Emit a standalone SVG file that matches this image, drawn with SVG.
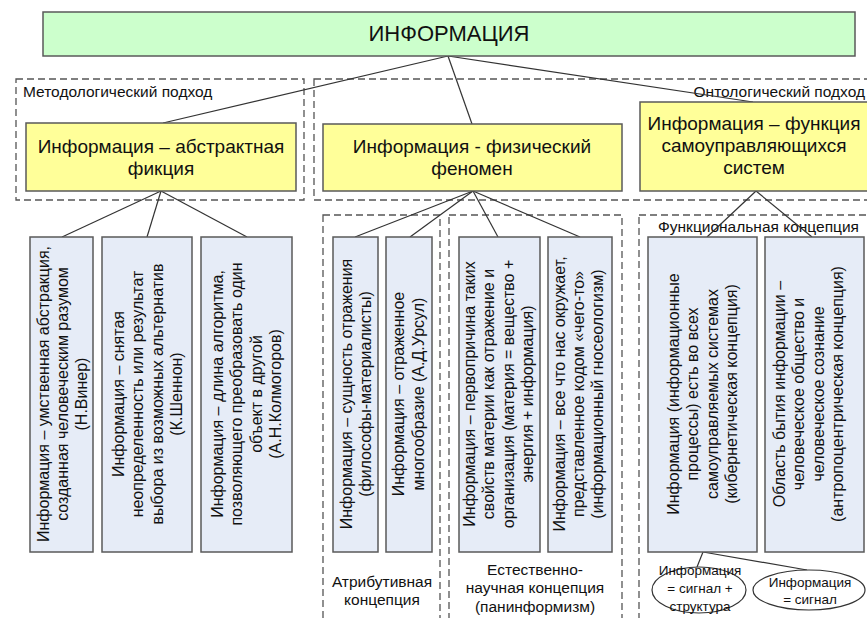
<svg xmlns="http://www.w3.org/2000/svg" width="867" height="618" viewBox="0 0 867 618">
<style>
text{font-family:"Liberation Sans",Arial,sans-serif;fill:#111}
.dash{fill:none;stroke:#555;stroke-width:1.3;stroke-dasharray:7,4}
.top{fill:#ccffcc;stroke:#5a5a5a;stroke-width:1.5}
.yel{fill:#ffff99;stroke:#5a5a5a;stroke-width:1.5}
.blu{fill:#e6ecf7;stroke:#5a5a5a;stroke-width:1.5}
.ell{fill:#fff;stroke:#333;stroke-width:1.2}
.con line{stroke:#333;stroke-width:1.2}
.t22{font-size:22px}
.t19{font-size:19px}
.t16{font-size:16px}
.t15{font-size:15.5px}
.t13{font-size:13.5px}
</style>
<rect width="867" height="618" fill="#fff"/>

<g id="groups">
<rect class="dash" x="16" y="79" width="288" height="121"/>
<rect class="dash" x="314" y="79" width="570" height="121"/>
<rect class="dash" x="323" y="215" width="117" height="420"/>
<rect class="dash" x="449" y="215" width="173" height="420"/>
<rect class="dash" x="639" y="215" width="250" height="420"/>
<text class="t15" x="23" y="97">Методологический подход</text>
<text class="t15" text-anchor="end" x="865" y="97">Онтологический подход</text>
<text class="t15" x="658" y="232">Функциональная концепция</text>
<text class="t15" text-anchor="middle" x="382" y="587">Атрибутивная</text>
<text class="t15" text-anchor="middle" x="382" y="605">концепция</text>
<text class="t15" text-anchor="middle" x="535" y="575">Естественно-</text>
<text class="t15" text-anchor="middle" x="535" y="593">научная концепция</text>
<text class="t15" text-anchor="middle" x="535" y="612">(панинформизм)</text>
</g>

<g class="con" id="connectors">
<line x1="448" y1="56" x2="163" y2="123"/>
<line x1="448" y1="56" x2="472" y2="124"/>
<line x1="448" y1="56" x2="753" y2="102"/>
<line x1="161" y1="191" x2="62" y2="237"/>
<line x1="161" y1="191" x2="147" y2="237"/>
<line x1="161" y1="191" x2="247" y2="237"/>
<line x1="473" y1="191" x2="355" y2="237"/>
<line x1="473" y1="191" x2="410" y2="237"/>
<line x1="473" y1="191" x2="498" y2="237"/>
<line x1="473" y1="191" x2="580" y2="237"/>
<line x1="756" y1="191" x2="707" y2="237"/>
<line x1="756" y1="191" x2="812" y2="237"/>
<line x1="703" y1="552" x2="697" y2="567"/>
<line x1="703" y1="552" x2="807" y2="570"/>
</g>

<g id="info">
<rect class="top" x="43" y="12" width="812" height="44"/>
<text class="t22" text-anchor="middle" x="449" y="41">ИНФОРМАЦИЯ</text>
</g>

<g id="abstract">
<rect class="yel" x="26" y="123" width="270" height="68"/>
<text class="t19" text-anchor="middle" x="161" y="153">Информация – абстрактная</text>
<text class="t19" text-anchor="middle" x="161" y="175">фикция</text>
</g>

<g id="physical">
<rect class="yel" x="323" y="124" width="299" height="67"/>
<text class="t19" text-anchor="middle" x="472" y="153">Информация - физический</text>
<text class="t19" text-anchor="middle" x="472" y="175">феномен</text>
</g>

<g id="function">
<rect class="yel" x="640" y="102" width="232" height="89"/>
<text class="t19" text-anchor="middle" x="754" y="130">Информация – функция</text>
<text class="t19" text-anchor="middle" x="754" y="152">самоуправляющихся</text>
<text class="t19" text-anchor="middle" x="754" y="174">систем</text>
</g>

<g id="wiener">
<rect class="blu" x="30" y="237" width="63" height="315"/>
<text class="t16" text-anchor="middle" transform="translate(62,394) rotate(-90)"><tspan x="0" y="-13.5">Информация – умственная абстракция,</tspan><tspan x="0" y="5.5">созданная человеческим разумом</tspan><tspan x="0" y="24.5">(Н.Винер)</tspan></text>
</g>

<g id="shannon">
<rect class="blu" x="102" y="237" width="90" height="315"/>
<text class="t16" text-anchor="middle" transform="translate(147,394) rotate(-90)"><tspan x="0" y="-23.5">Информация – снятая</tspan><tspan x="0" y="-4">неопределенность или результат</tspan><tspan x="0" y="15.5">выбора из возможных альтернатив</tspan><tspan x="0" y="35">(К.Шеннон)</tspan></text>
</g>

<g id="kolmogorov">
<rect class="blu" x="201" y="237" width="91" height="315"/>
<text class="t16" text-anchor="middle" transform="translate(246,394) rotate(-90)"><tspan x="0" y="-23.5">Информация – длина алгоритма,</tspan><tspan x="0" y="-4">позволяющего преобразовать  один</tspan><tspan x="0" y="15.5">объект в другой</tspan><tspan x="0" y="35">(А.Н.Колмогоров)</tspan></text>
</g>

<g id="materialists">
<rect class="blu" x="333" y="237" width="45" height="315"/>
<text class="t16" text-anchor="middle" transform="translate(355.5,394) rotate(-90)"><tspan x="0" y="-4">Информация – сущность отражения</tspan><tspan x="0" y="15.5">(философы-материалисты)</tspan></text>
</g>

<g id="ursul">
<rect class="blu" x="386" y="237" width="46" height="315"/>
<text class="t16" text-anchor="middle" transform="translate(408,394) rotate(-90)"><tspan x="0" y="-4">Информация – отраженное</tspan><tspan x="0" y="15.5">многообразие (А.Д.Урсул)</tspan></text>
</g>

<g id="panInfo">
<rect class="blu" x="459" y="237" width="81" height="315"/>
<text class="t16" text-anchor="middle" transform="translate(498,394) rotate(-90)"><tspan x="0" y="-23.5">Информация – первопричина таких</tspan><tspan x="0" y="-4">свойств материи как отражение и</tspan><tspan x="0" y="15.5">организация (материя = вещество +</tspan><tspan x="0" y="35">энергия + информация)</tspan></text>
</g>

<g id="gnoseology">
<rect class="blu" x="548" y="237" width="64" height="315"/>
<text class="t16" text-anchor="middle" transform="translate(578,394) rotate(-90)"><tspan x="0" y="-13.5">Информация – все что нас окружает,</tspan><tspan x="0" y="5.5">представленное кодом «чего-то»</tspan><tspan x="0" y="24.5">(информационный гносеологизм)</tspan></text>
</g>

<g id="cybernetic">
<rect class="blu" x="648" y="237" width="109" height="315"/>
<text class="t16" text-anchor="middle" transform="translate(702,394) rotate(-90)"><tspan x="0" y="-23.5">Информация (информационные</tspan><tspan x="0" y="-4">процессы) есть во всех</tspan><tspan x="0" y="15.5">самоуправляемых системах</tspan><tspan x="0" y="35">(кибернетическая концепция)</tspan></text>
</g>

<g id="anthropo">
<rect class="blu" x="765" y="237" width="99" height="315"/>
<text class="t16" text-anchor="middle" transform="translate(808,394) rotate(-90)"><tspan x="0" y="-23.5">Область бытия информации –</tspan><tspan x="0" y="-4">человеческое общество и</tspan><tspan x="0" y="15.5">человеческое сознание</tspan><tspan x="0" y="35">(антропоцентрическая концепция)</tspan></text>
</g>

<g id="signalStructure">
<ellipse class="ell" cx="699" cy="590" rx="47" ry="23"/>
<text class="t13" text-anchor="middle" x="700" y="575">Информация</text>
<text class="t13" text-anchor="middle" x="700" y="593">= сигнал +</text>
<text class="t13" text-anchor="middle" x="700" y="611">структура</text>
</g>

<g id="signal">
<ellipse class="ell" cx="809" cy="590" rx="56" ry="20"/>
<text class="t13" text-anchor="middle" x="810" y="587">Информация</text>
<text class="t13" text-anchor="middle" x="810" y="604">= сигнал</text>
</g>
</svg>
